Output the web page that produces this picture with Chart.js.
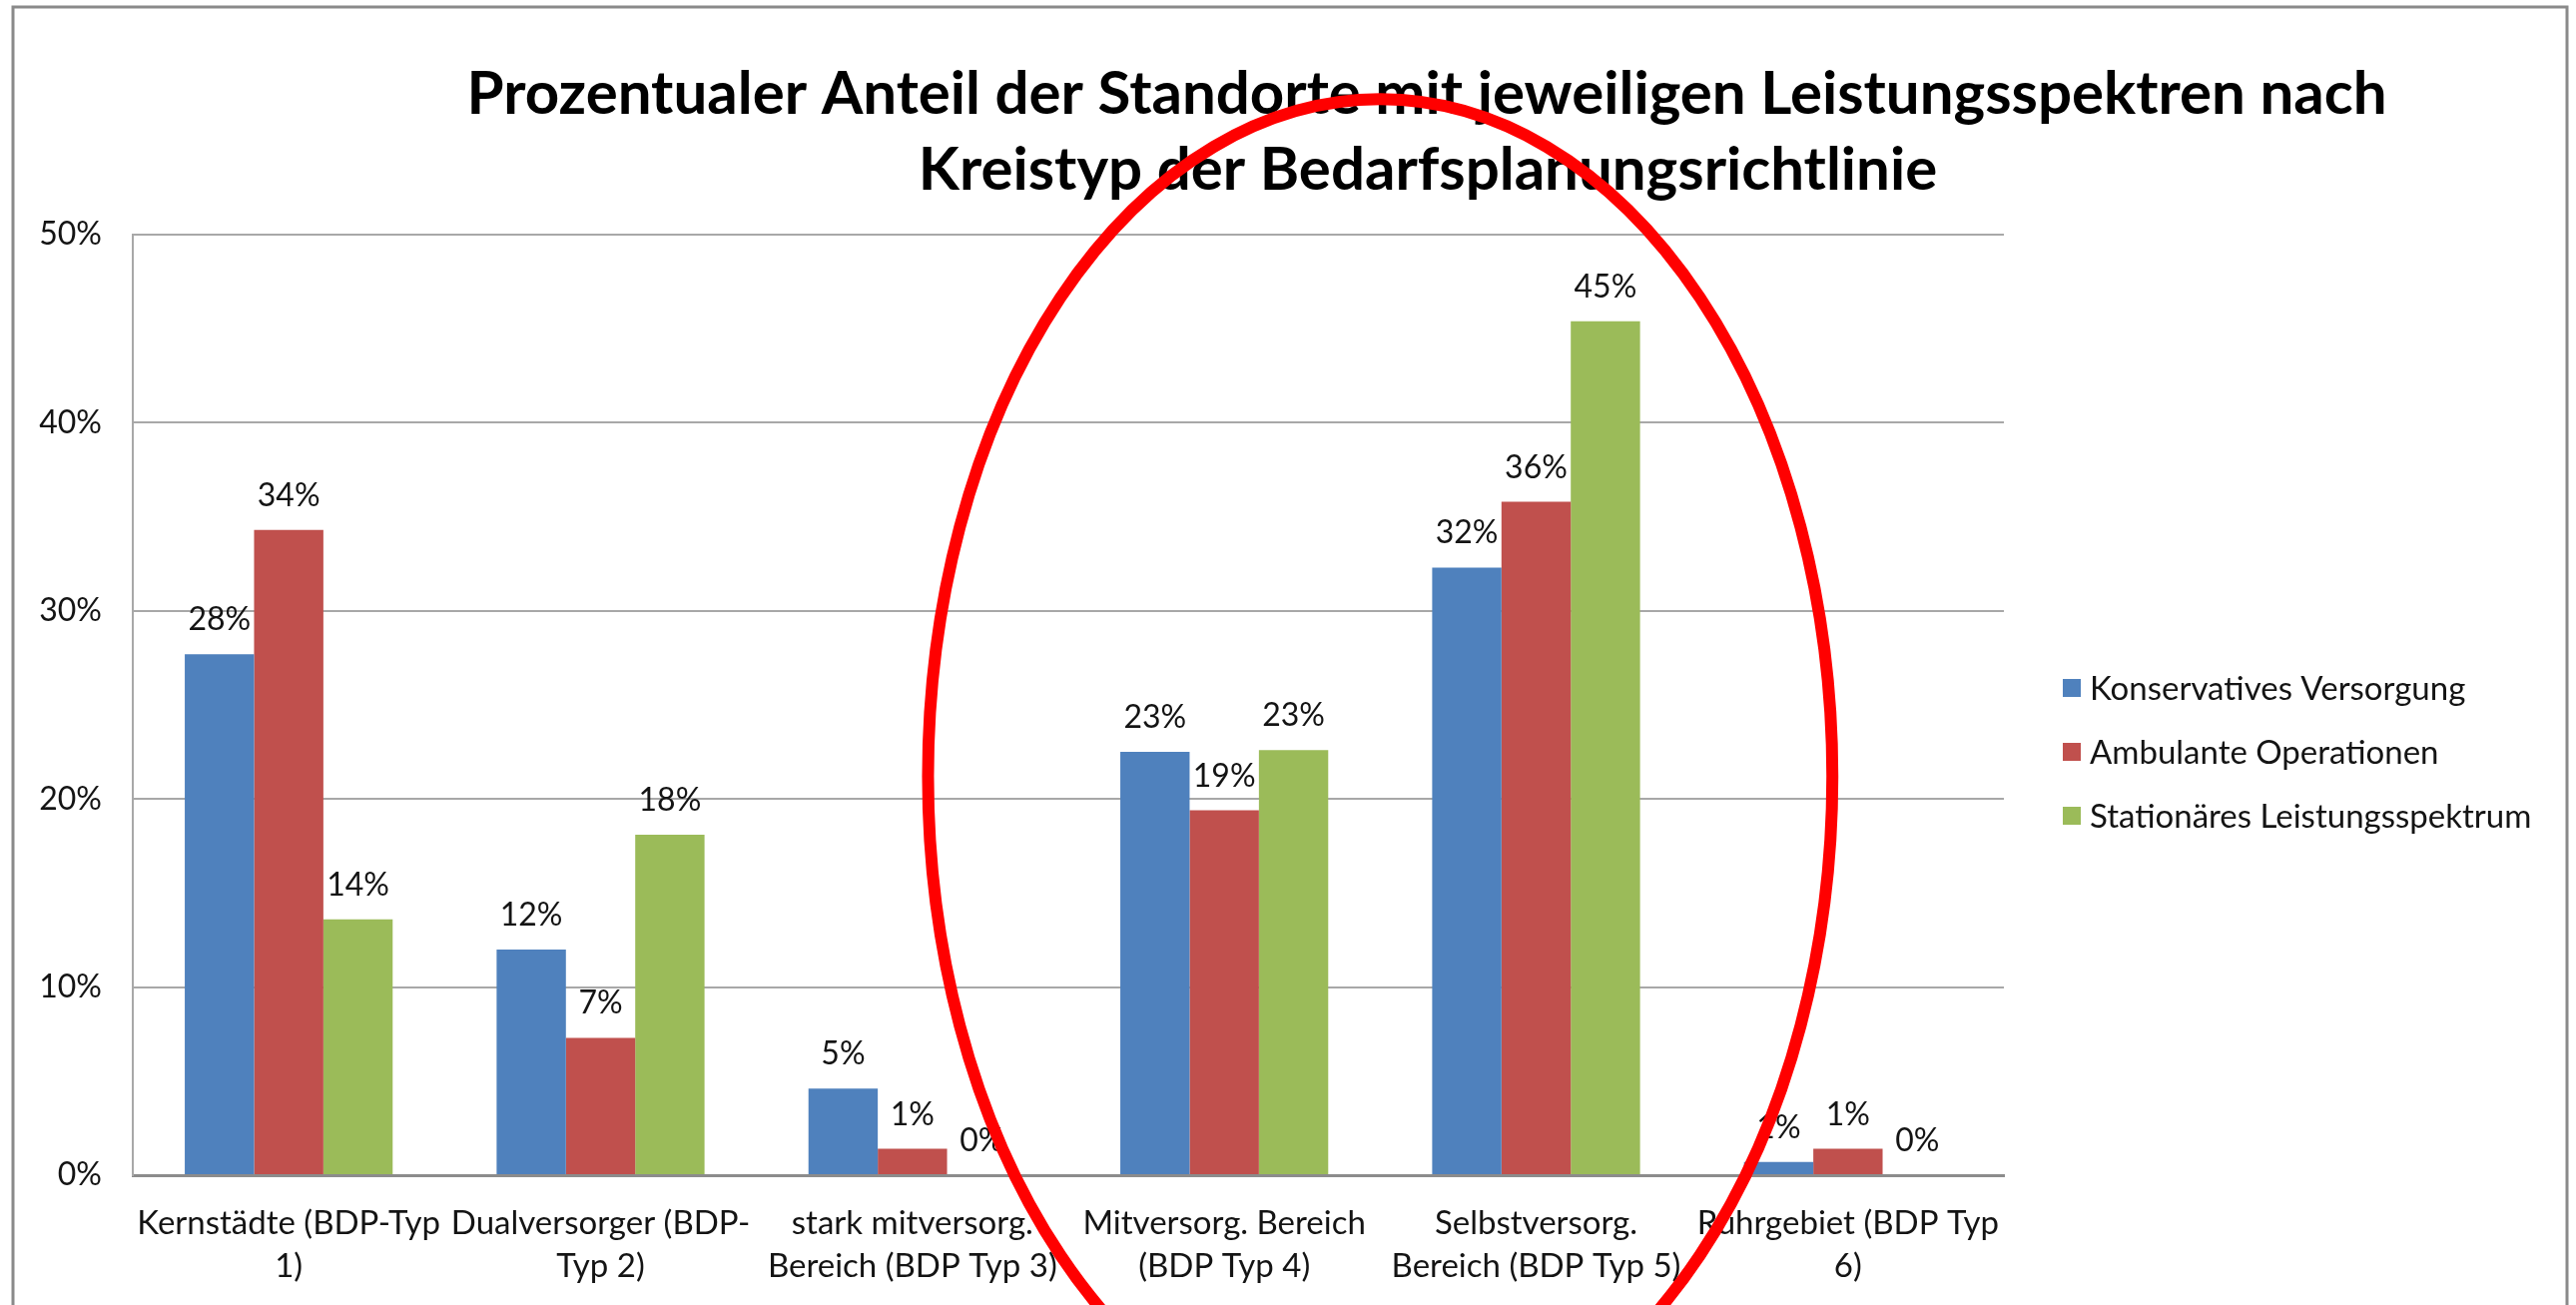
<!DOCTYPE html>
<html lang="de">
<head>
<meta charset="utf-8">
<title>Leistungsspektren nach Kreistyp</title>
<script src="https://cdn.jsdelivr.net/npm/chart.js@4.4.1/dist/chart.umd.min.js"></script>
<style>
  html, body { margin: 0; padding: 0; background: #fff; }
  #wrap { width: 2580px; height: 1307px; position: relative; }
</style>
</head>
<body>
<div id="wrap"><canvas id="chart" width="2580" height="1307"></canvas></div>
<script>
const titleLines = [
  'Prozentualer Anteil der Standorte mit jeweiligen Leistungsspektren nach',
  'Kreistyp der Bedarfsplanungsrichtlinie'
];

const categories = [
  ['Kernstädte (BDP-Typ', '1)'],
  ['Dualversorger (BDP-', 'Typ 2)'],
  ['stark mitversorg.', 'Bereich (BDP Typ 3)'],
  ['Mitversorg. Bereich', '(BDP Typ 4)'],
  ['Selbstversorg.', 'Bereich (BDP Typ 5)'],
  ['Ruhrgebiet (BDP Typ', '6)']
];

const seriesNames = ['Konservatives Versorgung', 'Ambulante Operationen', 'Stationäres Leistungsspektrum'];
const seriesColors = ['#4F81BD', '#C0504D', '#9BBB59'];

// Anteile in Prozent
const konservativ = [27.7, 12.0, 4.6, 22.5, 32.3, 0.7];
const ambulant = [34.3, 7.3, 1.4, 19.4, 35.8, 1.4];
const stationaer = [13.6, 18.1, 0, 22.6, 45.4, 0];

const yTicks = [0, 10, 20, 30, 40, 50];

const FONT = 'Lato, "Open Sans", sans-serif';
const TEXT_COLOR = '#141414';

// Titel, Legende, Rahmen und die rote Markierung
const decorations = {
  id: 'decorations',
  afterDatasetsDraw(chart) {
    const ctx = chart.ctx;
    const xScale = chart.scales.x;
    const yScale = chart.scales.y;

    // Werte über den Balken
    ctx.save();
    ctx.font = '32px ' + FONT;
    ctx.fillStyle = TEXT_COLOR;
    ctx.textAlign = 'center';
    ctx.textBaseline = 'alphabetic';
    chart.data.datasets.forEach((ds, i) => {
      chart.getDatasetMeta(i).data.forEach((bar, j) => {
        ctx.fillText(Math.round(ds.data[j]) + '%', bar.x, bar.y - 24);
      });
    });
    ctx.restore();

    // Titel
    ctx.save();
    ctx.font = 'bold 60px ' + FONT;
    ctx.fillStyle = '#000';
    ctx.textAlign = 'center';
    ctx.textBaseline = 'middle';
    ctx.fillText(titleLines[0], 1429, 95);
    ctx.fillText(titleLines[1], 1430, 171);
    ctx.restore();

    // Legende
    ctx.save();
    ctx.font = '33px ' + FONT;
    ctx.textBaseline = 'middle';
    ctx.textAlign = 'left';
    chart.data.datasets.forEach((ds, i) => {
      const cy = 689 + i * 64;
      ctx.fillStyle = ds.backgroundColor;
      ctx.fillRect(2066, cy - 9, 18, 18);
      ctx.fillStyle = TEXT_COLOR;
      ctx.fillText(ds.label, 2093, cy + 1);
    });
    ctx.restore();

    // Rahmen
    ctx.save();
    ctx.strokeStyle = '#8a8a8a';
    ctx.lineWidth = 3;
    ctx.strokeRect(13, 7, 2558, 1320);
    ctx.restore();

    // rote Ellipse um Typ 4 und Typ 5
    const cx = (xScale.getPixelForValue(3) + xScale.getPixelForValue(4)) / 2;
    const catW = xScale.getPixelForValue(1) - xScale.getPixelForValue(0);
    const cy = yScale.getPixelForValue(21.2);
    const rx = catW * 1.45;
    const ry = yScale.getPixelForValue(0) - yScale.getPixelForValue(36);
    ctx.save();
    ctx.strokeStyle = '#FF0000';
    ctx.lineWidth = 12;
    ctx.beginPath();
    ctx.ellipse(cx, cy, rx, ry, 0, 0, Math.PI * 2);
    ctx.stroke();
    ctx.restore();
  }
};

const datasetValues = [konservativ, ambulant, stationaer];

new Chart(document.getElementById('chart'), {
  type: 'bar',
  data: {
    labels: categories,
    datasets: datasetValues.map((values, i) => ({
      label: seriesNames[i],
      data: values,
      backgroundColor: seriesColors[i],
      borderWidth: 0,
      categoryPercentage: 3 / 4.5,
      barPercentage: 1
    }))
  },
  options: {
    responsive: false,
    animation: false,
    devicePixelRatio: 1,
    layout: { padding: { left: 13, right: 573, top: 235, bottom: 0 } },
    plugins: {
      legend: { display: false },
      title: { display: false },
      tooltip: { enabled: false }
    },
    scales: {
      x: {
        afterFit: (scale) => { scale.height = 130; },
        grid: { display: false, drawTicks: false },
        border: { color: '#8c8c8c', width: 3 },
        ticks: {
          color: TEXT_COLOR,
          font: { family: FONT, size: 33, lineHeight: 1.3 },
          padding: 27,
          maxRotation: 0,
          autoSkip: false
        }
      },
      y: {
        min: 0,
        max: 50,
        afterFit: (scale) => { scale.width = 120; },
        afterBuildTicks: (scale) => { scale.ticks = yTicks.map(v => ({ value: v })); },
        grid: { color: '#a8a8a8', lineWidth: 2, drawTicks: false },
        border: { color: '#a8a8a8', width: 2 },
        ticks: {
          color: TEXT_COLOR,
          font: { family: FONT, size: 32 },
          padding: 31,
          callback: (v) => v + '%'
        }
      }
    }
  },
  plugins: [decorations]
});
</script>
</body>
</html>
